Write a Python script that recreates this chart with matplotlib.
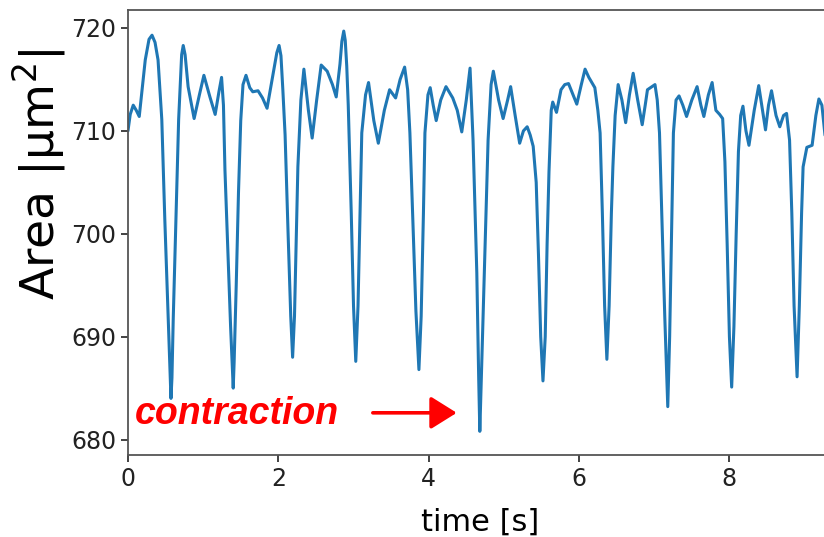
import numpy as np
import matplotlib
matplotlib.use("Agg")
from matplotlib import pyplot as plt

# cell area trace (one row per beat)
time_s = [
    0.00, 0.03, 0.07, 0.11, 0.15, 0.23, 0.28, 0.32, 0.36, 0.40, 0.45, 0.49, 0.535, 0.56, 0.572, 0.585, 0.602, 0.638, 0.674, 0.714, 0.735, 0.76,
    0.80, 0.88, 0.95, 1.01, 1.09, 1.16, 1.21, 1.245, 1.27, 1.29, 1.33, 1.365, 1.388, 1.40, 1.412, 1.44, 1.47, 1.50, 1.53, 1.57,
    1.62, 1.66, 1.73, 1.79, 1.85, 1.93, 1.98, 2.01, 2.035, 2.06, 2.09, 2.13, 2.165, 2.19, 2.215, 2.24, 2.26, 2.30, 2.34,
    2.40, 2.45, 2.51, 2.57, 2.65, 2.72, 2.77, 2.82, 2.845, 2.87, 2.89, 2.91, 2.93, 2.97, 3.00, 3.03, 3.06, 3.09, 3.11, 3.16, 3.20,
    3.27, 3.33, 3.41, 3.48, 3.56, 3.62, 3.68, 3.72, 3.75, 3.79, 3.83, 3.87, 3.90, 3.93, 3.95, 3.99, 4.02,
    4.06, 4.10, 4.16, 4.23, 4.32, 4.38, 4.44, 4.50, 4.55, 4.59, 4.64, 4.665, 4.68, 4.70, 4.74, 4.79, 4.83, 4.86,
    4.93, 4.99, 5.05, 5.09, 5.15, 5.21, 5.26, 5.31, 5.35, 5.39, 5.43, 5.46, 5.49, 5.52, 5.55, 5.575, 5.60, 5.63, 5.65,
    5.70, 5.76, 5.81, 5.86, 5.92, 5.97, 6.03, 6.08, 6.13, 6.21, 6.25, 6.28, 6.31, 6.34, 6.37, 6.40, 6.43, 6.45, 6.48, 6.52,
    6.57, 6.62, 6.67, 6.72, 6.78, 6.84, 6.88, 6.91, 6.97, 7.01, 7.04, 7.07, 7.10, 7.14, 7.18, 7.205, 7.23, 7.255, 7.29, 7.33,
    7.38, 7.43, 7.50, 7.57, 7.62, 7.66, 7.72, 7.77, 7.82, 7.87, 7.91, 7.94, 7.97, 8.00, 8.03, 8.06, 8.09, 8.12, 8.15, 8.18,
    8.22, 8.26, 8.33, 8.39, 8.44, 8.48, 8.52, 8.56, 8.62, 8.67, 8.72, 8.76, 8.80, 8.83, 8.86, 8.90, 8.93, 8.96, 8.98, 9.03, 9.10, 9.15, 9.19, 9.23, 9.26, 9.30,
]
area_um2 = [
    710.0, 711.6, 712.5, 712.0, 711.4, 716.9, 718.9, 719.3, 718.6, 716.9, 711.1, 701.4, 691.7, 686.0, 684.0, 686.0, 691.7, 701.4, 711.1, 717.4, 718.3, 717.4,
    714.3, 711.2, 713.5, 715.4, 713.3, 711.6, 713.8, 715.2, 712.5, 706.2, 698.0, 691.0, 687.2, 685.0, 687.5, 695.0, 704.0, 711.0, 714.5, 715.4,
    714.2, 713.8, 713.9, 713.2, 712.2, 715.5, 717.6, 718.3, 717.3, 714.0, 709.6, 700.0, 692.0, 688.0, 692.0, 700.0, 706.5, 713.0, 716.0,
    712.0, 709.3, 713.0, 716.4, 715.8, 714.5, 713.3, 716.5, 718.7, 719.7, 718.8, 716.3, 712.5, 702.0, 693.0, 687.6, 693.0, 703.0, 709.8, 713.5, 714.7,
    711.0, 708.8, 712.0, 714.0, 713.2, 715.0, 716.2, 714.0, 709.8, 701.0, 692.5, 686.8, 692.0, 702.0, 709.8, 713.5, 714.2,
    712.5, 711.0, 713.0, 714.3, 713.2, 712.0, 709.9, 713.0, 716.1, 709.1, 696.2, 686.0, 680.8, 686.0, 696.2, 709.1, 714.5, 715.8,
    713.0, 711.2, 713.0, 714.3, 711.5, 708.8, 710.0, 710.4, 709.6, 708.5, 705.0, 698.0, 690.0, 685.7, 690.0, 699.0, 706.0, 712.0, 712.8,
    711.8, 714.0, 714.5, 714.6, 713.5, 712.6, 714.5, 716.0, 715.2, 714.2, 712.0, 709.8, 702.0, 693.0, 687.8, 693.0, 702.0, 706.5, 711.5, 714.5,
    713.0, 710.8, 713.5, 715.6, 713.0, 710.6, 712.5, 714.0, 714.3, 714.5, 713.0, 709.8, 702.0, 692.0, 683.2, 690.0, 700.0, 709.8, 713.0, 713.4,
    712.5, 711.4, 713.0, 714.3, 712.5, 711.4, 713.5, 714.7, 712.0, 711.6, 711.2, 707.0, 699.0, 690.0, 685.1, 691.0, 700.0, 708.0, 711.5, 712.4,
    710.0, 708.6, 712.0, 714.4, 712.0, 710.1, 712.5, 713.9, 711.5, 710.4, 711.5, 711.7, 709.1, 702.0, 693.0, 686.1, 693.0, 702.0, 706.5, 708.4, 708.6, 711.5, 713.1, 712.5, 710.4, 707.5,
]

x_ticks = [0, 2, 4, 6, 8]
y_ticks = [680, 690, 700, 710, 720]

fig = plt.figure(figsize=(8.24, 5.37), dpi=100)
# the original figure is cut off on the right, so the axes run past the edge
ax = fig.add_axes([0.1553, 0.1527, 0.854, 0.8287])

ax.plot(time_s, area_um2, color="#1f77b4", lw=2.2,
        solid_joinstyle="round", solid_capstyle="round")

ax.set_xlim(0, 9.36)
ax.set_ylim(678.5, 721.75)
ax.set_xticks(x_ticks)
ax.set_yticks(y_ticks)
ax.tick_params(labelsize=17, colors="#222222", length=5, width=1.2)
for sp in ax.spines.values():
    sp.set_color("#555555")
    sp.set_linewidth(1.3)

ax.set_xlabel("time [s]", fontsize=22, labelpad=12)
ax.set_ylabel("Area |μm$^2$|", fontsize=34)
ax.yaxis.set_label_coords(-0.085, 0.63)

ax.text(0.09, 682.5, "contraction", color="red", fontsize=27,
        fontweight="bold", fontstyle="italic", family="Liberation Sans",
        va="center", ha="left")
ax.annotate("", xy=(4.41, 682.6), xytext=(3.22, 682.6),
            arrowprops=dict(arrowstyle="-|>,head_length=0.8,head_width=0.5",
                            color="red", lw=2.6, mutation_scale=20))

fig.savefig("out.png", dpi=100)
